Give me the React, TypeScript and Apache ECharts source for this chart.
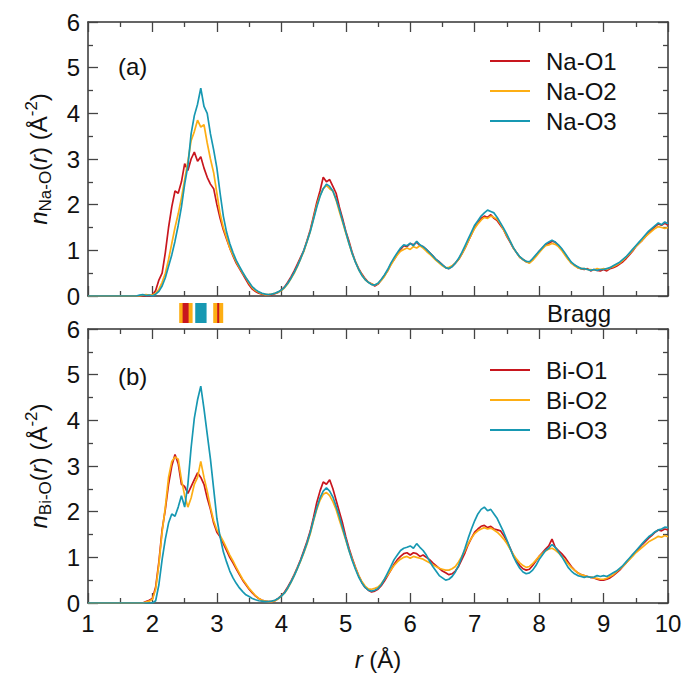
import React, { useEffect, useRef } from "react";
import * as echarts from "echarts";

// sampling grid: r from 1.00 Å in steps of 0.05 Å (181 samples up to 10.00 Å)
const R_START = 1.0;
const R_STEP = 0.05;

const X_TICKS = [1, 2, 3, 4, 5, 6, 7, 8, 9, 10];
const Y_TICKS = [0, 1, 2, 3, 4, 5, 6];

// (a) Na-O partial densities, rows of 10 samples (0.5 Å each)
const naO1 = [
  0, 0, 0, 0, 0, 0, 0, 0, 0, 0,
  0, 0, 0, 0, 0, 0, 0, 0, 0, 0,
  0.02, 0.12, 0.35, 0.5, 0.95, 1.5, 1.95, 2.3, 2.25, 2.5,
  2.9, 2.75, 3.0, 3.15, 2.95, 3.05, 2.8, 2.6, 2.45, 2.35,
  2.0, 1.7, 1.45, 1.25, 1.05, 0.88, 0.72, 0.6, 0.48, 0.36,
  0.24, 0.15, 0.1, 0.06, 0.04, 0.03, 0.02, 0.03, 0.05, 0.08,
  0.13, 0.2, 0.3, 0.42, 0.55, 0.7, 0.85, 1.0, 1.22, 1.45,
  1.75, 2.05, 2.3, 2.6, 2.5, 2.55, 2.4, 2.25, 1.95, 1.7,
  1.42, 1.2, 0.95, 0.75, 0.6, 0.48, 0.38, 0.3, 0.27, 0.22,
  0.26, 0.35, 0.45, 0.55, 0.7, 0.8, 0.92, 1.02, 1.1, 1.08,
  1.15, 1.12, 1.18, 1.1, 1.08, 1.02, 0.95, 0.88, 0.8, 0.75,
  0.68, 0.62, 0.6, 0.65, 0.72, 0.8, 0.92, 1.05, 1.2, 1.35,
  1.5, 1.6, 1.7, 1.75, 1.72, 1.78, 1.7, 1.65, 1.55, 1.45,
  1.3, 1.18, 1.05, 0.95, 0.85, 0.8, 0.75, 0.73, 0.8, 0.88,
  0.98, 1.05, 1.12, 1.15, 1.2, 1.18, 1.1, 1.02, 0.92, 0.82,
  0.72, 0.68, 0.62, 0.6, 0.58, 0.6, 0.55, 0.58, 0.56, 0.55,
  0.58, 0.55, 0.6, 0.62, 0.65, 0.7, 0.75, 0.82, 0.9, 0.98,
  1.08, 1.15, 1.22, 1.3, 1.38, 1.45, 1.52, 1.58, 1.55, 1.6,
  1.55,
];
const naO2 = [
  0, 0, 0, 0, 0, 0, 0, 0, 0, 0,
  0, 0, 0, 0, 0, 0, 0, 0.02, 0.03, 0.02,
  0.02, 0.06, 0.15, 0.3, 0.5, 0.8, 1.15, 1.5, 1.8, 2.15,
  2.55, 2.95, 3.4, 3.6, 3.85, 3.7, 3.75, 3.35, 3.0, 2.7,
  2.25, 1.8, 1.5, 1.28, 1.05, 0.9, 0.75, 0.62, 0.5, 0.4,
  0.28, 0.18, 0.12, 0.08, 0.05, 0.03, 0.03, 0.04, 0.06, 0.08,
  0.12, 0.18, 0.27, 0.38, 0.5, 0.65, 0.82, 0.98, 1.2, 1.42,
  1.7, 1.98, 2.2, 2.35, 2.42, 2.35, 2.3, 2.1, 1.85, 1.62,
  1.38, 1.15, 0.92, 0.75, 0.58, 0.46, 0.36, 0.3, 0.26, 0.24,
  0.27, 0.34, 0.43, 0.55, 0.68, 0.8, 0.9, 0.98, 1.02, 1.05,
  1.02, 1.08, 1.05, 1.1, 1.05, 0.98, 0.92, 0.85, 0.78, 0.72,
  0.66, 0.62, 0.63, 0.66, 0.72, 0.8, 0.92, 1.05, 1.2, 1.35,
  1.48, 1.58, 1.66, 1.72, 1.7, 1.75, 1.72, 1.68, 1.58, 1.45,
  1.32, 1.2, 1.05, 0.95, 0.85, 0.8, 0.75, 0.72, 0.78, 0.86,
  0.95, 1.03, 1.1, 1.12, 1.15, 1.13, 1.08, 1.0, 0.9, 0.8,
  0.72, 0.66, 0.62, 0.6, 0.6, 0.58, 0.58, 0.57, 0.6, 0.58,
  0.6, 0.58, 0.62, 0.64, 0.68, 0.72, 0.78, 0.85, 0.92, 1.0,
  1.08, 1.15, 1.22, 1.3, 1.36, 1.42, 1.48, 1.52, 1.5, 1.48,
  1.5,
];
const naO3 = [
  0, 0, 0, 0, 0, 0, 0, 0, 0, 0,
  0, 0, 0, 0, 0, 0, 0.02, 0.03, 0.01, 0.02,
  0.0, 0.04, 0.1, 0.22, 0.4, 0.65, 0.9, 1.2, 1.55, 1.95,
  2.45, 2.85, 3.55, 3.95, 4.2, 4.55, 4.15, 4.0, 3.55, 3.2,
  2.8, 2.25, 1.75, 1.4, 1.15, 0.95, 0.78, 0.65, 0.52, 0.4,
  0.3, 0.2, 0.14, 0.09, 0.06, 0.04, 0.03, 0.04, 0.06, 0.09,
  0.13, 0.19, 0.28, 0.39, 0.52, 0.66, 0.82, 1.0, 1.2, 1.42,
  1.68, 1.95, 2.18, 2.35, 2.45, 2.4, 2.3, 2.12, 1.9, 1.65,
  1.4, 1.15, 0.93, 0.74, 0.58, 0.45, 0.36, 0.3, 0.25, 0.24,
  0.28, 0.36, 0.46, 0.58, 0.72, 0.84, 0.95, 1.05, 1.12, 1.1,
  1.16, 1.1, 1.2, 1.12, 1.08, 1.02, 0.95, 0.88, 0.8, 0.74,
  0.68, 0.62, 0.6, 0.64, 0.72, 0.82, 0.95, 1.1, 1.25, 1.4,
  1.55, 1.65, 1.75, 1.82, 1.88, 1.85, 1.82, 1.72, 1.6, 1.48,
  1.35, 1.2, 1.06, 0.95, 0.86, 0.8, 0.76, 0.75, 0.82, 0.9,
  0.98, 1.06, 1.14, 1.18, 1.22, 1.18, 1.12, 1.04, 0.94, 0.84,
  0.74, 0.68, 0.64, 0.6, 0.6, 0.58, 0.56, 0.58, 0.56, 0.58,
  0.58, 0.6, 0.62, 0.66, 0.7, 0.74, 0.8, 0.86, 0.94, 1.02,
  1.1, 1.18, 1.26, 1.34, 1.42, 1.48, 1.54, 1.6, 1.56, 1.62,
  1.58,
];

// (b) Bi-O partial densities
const biO1 = [
  0, 0, 0, 0, 0, 0, 0, 0, 0, 0,
  0, 0, 0, 0, 0, 0, 0, 0, 0.03, 0.06,
  0.1, 0.35, 0.9, 1.6, 2.05, 2.6, 3.0, 3.25, 3.05, 2.6,
  2.55, 2.4, 2.55, 2.7, 2.85, 2.75, 2.6, 2.3, 2.05, 1.75,
  1.55, 1.45, 1.3, 1.15, 1.0, 0.88, 0.75, 0.62, 0.5, 0.4,
  0.3, 0.22, 0.15, 0.1, 0.06, 0.04, 0.03, 0.03, 0.05, 0.1,
  0.16, 0.24, 0.35, 0.48, 0.62, 0.78, 0.95, 1.15, 1.35, 1.58,
  1.88, 2.2, 2.45, 2.65, 2.6, 2.7, 2.5, 2.25, 2.0, 1.75,
  1.45, 1.2, 0.98, 0.78, 0.6, 0.45, 0.34, 0.28, 0.24, 0.26,
  0.3, 0.38, 0.48, 0.6, 0.72, 0.85, 0.95, 1.02, 1.08, 1.1,
  1.05, 1.1, 1.08, 1.02, 1.05, 1.0, 0.95, 0.88, 0.82, 0.76,
  0.7, 0.66, 0.62, 0.64, 0.7, 0.8, 0.95, 1.1, 1.28, 1.42,
  1.55, 1.62, 1.68, 1.7, 1.65, 1.68, 1.62, 1.6, 1.58, 1.48,
  1.35, 1.2, 1.05, 0.92, 0.82, 0.75, 0.72, 0.74, 0.82, 0.92,
  1.02, 1.1, 1.18, 1.25, 1.4, 1.22, 1.15, 1.08, 1.0, 0.9,
  0.8, 0.72, 0.66, 0.62, 0.6, 0.58, 0.56, 0.55, 0.52, 0.5,
  0.5, 0.52, 0.55, 0.6, 0.66, 0.72, 0.8, 0.88, 0.96, 1.05,
  1.12, 1.2, 1.28, 1.35, 1.42, 1.48, 1.55, 1.6, 1.58, 1.62,
  1.6,
];
const biO2 = [
  0, 0, 0, 0, 0, 0, 0, 0, 0, 0,
  0, 0, 0, 0, 0, 0, 0, 0, 0.02, 0.04,
  0.08, 0.3, 0.85, 1.55, 2.1, 2.75, 3.1, 3.2, 3.15, 2.7,
  2.35, 2.1, 2.3, 2.6, 2.75, 3.1, 2.75, 2.45, 2.1, 1.8,
  1.6, 1.48, 1.35, 1.2, 1.05, 0.92, 0.78, 0.65, 0.52, 0.42,
  0.32, 0.24, 0.16, 0.1, 0.06, 0.04, 0.03, 0.03, 0.05, 0.09,
  0.15, 0.22, 0.32, 0.45, 0.6, 0.76, 0.92, 1.1, 1.3, 1.52,
  1.8, 2.05, 2.25, 2.38, 2.42, 2.35, 2.22, 2.05, 1.82, 1.6,
  1.38, 1.15, 0.95, 0.77, 0.6, 0.47, 0.37, 0.31, 0.3, 0.32,
  0.35, 0.42, 0.52, 0.62, 0.72, 0.82, 0.9, 0.96, 1.0, 1.02,
  0.98, 1.02, 1.0, 0.98, 0.96, 0.92, 0.88, 0.84, 0.8, 0.76,
  0.74, 0.72, 0.72, 0.75, 0.8, 0.9, 1.02, 1.15, 1.3, 1.42,
  1.52, 1.58, 1.62, 1.65, 1.62, 1.64, 1.6, 1.55, 1.48, 1.4,
  1.3, 1.18, 1.06, 0.96, 0.88, 0.82, 0.78, 0.8, 0.86, 0.94,
  1.02, 1.08, 1.14, 1.18, 1.2, 1.16, 1.1, 1.02, 0.94, 0.86,
  0.78, 0.72, 0.66, 0.62, 0.6, 0.58, 0.57, 0.55, 0.54, 0.52,
  0.52, 0.54, 0.58, 0.62, 0.68, 0.74, 0.8, 0.88, 0.95, 1.02,
  1.1, 1.16, 1.22, 1.28, 1.34, 1.38, 1.42, 1.46, 1.44, 1.48,
  1.45,
];
const biO3 = [
  0, 0, 0, 0, 0, 0, 0, 0, 0, 0,
  0, 0, 0, 0, 0, 0, 0, 0, 0, 0,
  0.0, 0.05, 0.4, 0.95, 1.4, 1.75, 1.95, 1.9, 2.1, 2.35,
  2.1, 2.6, 3.4, 4.05, 4.45, 4.75, 4.25, 3.7, 3.15, 2.5,
  1.85, 1.45, 1.12, 0.9, 0.7, 0.55, 0.43, 0.33, 0.25, 0.18,
  0.14, 0.1, 0.07, 0.05, 0.04, 0.03, 0.03, 0.04, 0.06, 0.1,
  0.15, 0.22, 0.33, 0.46, 0.6, 0.76, 0.93, 1.12, 1.32, 1.55,
  1.82, 2.08, 2.3, 2.45, 2.52, 2.45, 2.32, 2.12, 1.9, 1.65,
  1.4, 1.15, 0.93, 0.74, 0.57, 0.44, 0.34, 0.28, 0.26, 0.28,
  0.32, 0.4, 0.52, 0.66, 0.8, 0.95, 1.05, 1.15, 1.2, 1.22,
  1.25, 1.2, 1.3, 1.22, 1.15, 1.05, 0.92, 0.8, 0.7, 0.6,
  0.55, 0.5, 0.52, 0.58, 0.68, 0.82, 1.0, 1.2, 1.42, 1.62,
  1.8, 1.95, 2.05, 2.1, 2.02, 2.05, 1.95, 1.85, 1.7, 1.55,
  1.38, 1.2, 1.02, 0.88, 0.76, 0.68, 0.64, 0.66, 0.72, 0.82,
  0.95, 1.05, 1.15, 1.2, 1.28, 1.22, 1.12, 1.02, 0.9, 0.78,
  0.7, 0.64, 0.6, 0.58, 0.56, 0.58, 0.56, 0.57, 0.6, 0.58,
  0.6, 0.58, 0.62, 0.66, 0.7, 0.76, 0.82, 0.9, 0.98, 1.06,
  1.14, 1.22, 1.3, 1.38, 1.45, 1.5, 1.56, 1.6, 1.62, 1.66,
  1.65,
];

// Bragg reflection bands [rStart, rEnd] (Å)
const braggO2 = [[2.415, 2.623], [2.943, 3.098]];
const braggO1 = [[2.468, 2.561], [3.005, 3.036]];
const braggO3 = [[2.664, 2.84]];

const NAMES_A = ["Na-O1", "Na-O2", "Na-O3"];
const NAMES_B = ["Bi-O1", "Bi-O2", "Bi-O3"];

const RED = "#c8161e";
const ORANGE = "#fdae14";
const TEAL = "#1798b2";
const FONT = "'Liberation Sans', Arial, Helvetica, sans-serif";

const toPairs = (vals: number[]) =>
  vals.map((v, i) => [Number((R_START + i * R_STEP).toFixed(2)), v]);

export default function App() {
  const ref = useRef<HTMLDivElement>(null);
  useEffect(() => {
    if (!ref.current) return;
    const chart = echarts.init(ref.current, undefined, { renderer: "svg" });

    const axisLine = { show: true, onZero: false, lineStyle: { color: "#333", width: 1.5 } };
    const axisTick = { show: true, inside: true, length: 10, lineStyle: { color: "#444", width: 1.3 } };
    const minorTick = { show: true, splitNumber: 2, length: 5, lineStyle: { color: "#444", width: 1.3 } };

    const xBase = (gridIndex: number, position: string, showLabel: boolean) => ({
      type: "value",
      gridIndex,
      position,
      min: X_TICKS[0],
      max: X_TICKS[X_TICKS.length - 1],
      interval: 1,
      axisLine,
      axisTick,
      minorTick,
      splitLine: { show: false },
      axisLabel: {
        show: showLabel,
        fontSize: 24,
        fontFamily: FONT,
        color: "#111",
        margin: 8,
      },
    });
    const yBase = (gridIndex: number, position: string, showLabel: boolean) => ({
      type: "value",
      gridIndex,
      position,
      min: Y_TICKS[0],
      max: Y_TICKS[Y_TICKS.length - 1],
      interval: 1,
      axisLine,
      axisTick,
      minorTick,
      splitLine: { show: false },
      axisLabel: {
        show: showLabel,
        fontSize: 24,
        fontFamily: FONT,
        color: "#111",
        margin: 8,
      },
    });

    const richY = {
      i: { fontStyle: "italic", fontSize: 24, fontFamily: FONT, color: "#111" },
      n: { fontSize: 24, fontFamily: FONT, color: "#111" },
      sub: { fontSize: 17, fontFamily: FONT, color: "#111", padding: [14, 0, 0, 0] },
      sup: { fontSize: 17, fontFamily: FONT, color: "#111", padding: [0, 0, 14, 0] },
    };

    const yName = (label: string) => ({
      name: `{i|n}{sub|${label}}{n|(}{i|r}{n|) (Å}{sup|-2}{n|)}`,
      nameLocation: "middle",
      nameRotate: 90,
      nameGap: 34,
      nameTextStyle: { fontSize: 24, fontFamily: FONT, color: "#111", rich: richY },
    });

    const lineSeries = (name: string, vals: number[], color: string, idx: number) => ({
      type: "line",
      name,
      xAxisIndex: idx,
      yAxisIndex: idx,
      data: toPairs(vals),
      showSymbol: false,
      symbol: "none",
      lineStyle: { color, width: 1.7 },
      itemStyle: { color },
      z: 3,
    });

    const braggSeries = (bands: number[][], color: string, z: number) => ({
      type: "custom",
      xAxisIndex: 4,
      yAxisIndex: 4,
      data: bands,
      z,
      renderItem: (params: any, api: any) => {
        const p0 = api.coord([api.value(0), 1]);
        const p1 = api.coord([api.value(1), 0]);
        return {
          type: "rect",
          shape: { x: p0[0], y: p0[1], width: p1[0] - p0[0], height: p1[1] - p0[1] },
          style: { fill: color },
        };
      },
    });

    const legendBase = (data: string[], top: number) => ({
      data,
      orient: "vertical",
      left: 485,
      top,
      icon: "rect",
      itemWidth: 40,
      itemHeight: 2,
      itemGap: 6,
      selectedMode: false,
      textStyle: {
        fontSize: 24,
        lineHeight: 24,
        fontFamily: FONT,
        color: "#111",
        padding: [0, 0, 0, 11],
      },
    });

    chart.setOption({
      animation: false,
      backgroundColor: "#fff",
      grid: [
        { left: 88, top: 22, width: 580, height: 274 },
        { left: 88, top: 329, width: 580, height: 274 },
        { left: 88, top: 303, width: 580, height: 20 },
      ],
      legend: [legendBase(NAMES_A, 44), legendBase(NAMES_B, 353)],
      xAxis: [
        xBase(0, "bottom", false),
        xBase(0, "top", false),
        {
          ...xBase(1, "bottom", true),
          name: "{i|r} (Å)",
          nameLocation: "middle",
          nameGap: 44,
          nameTextStyle: { fontSize: 24, fontFamily: FONT, color: "#111", rich: richY },
        },
        xBase(1, "top", false),
        {
          type: "value",
          gridIndex: 2,
          min: X_TICKS[0],
          max: X_TICKS[X_TICKS.length - 1],
          show: false,
        },
      ],
      yAxis: [
        { ...yBase(0, "left", true), ...yName("Na-O") },
        yBase(0, "right", false),
        { ...yBase(1, "left", true), ...yName("Bi-O") },
        yBase(1, "right", false),
        { type: "value", gridIndex: 2, min: 0, max: 1, show: false },
      ],
      graphic: [
        {
          type: "text",
          x: 118,
          y: 66,
          style: { text: "(a)", fontSize: 24, fontFamily: FONT, fill: "#111", verticalAlign: "middle", textVerticalAlign: "middle" },
        },
        {
          type: "text",
          x: 118,
          y: 376,
          style: { text: "(b)", fontSize: 24, fontFamily: FONT, fill: "#111", verticalAlign: "middle", textVerticalAlign: "middle" },
        },
        {
          type: "text",
          x: 547,
          y: 313,
          style: { text: "Bragg", fontSize: 24, fontFamily: FONT, fill: "#111", verticalAlign: "middle", textVerticalAlign: "middle" },
        },
      ],
      series: [
        lineSeries(NAMES_A[0], naO1, RED, 0),
        lineSeries(NAMES_A[1], naO2, ORANGE, 0),
        lineSeries(NAMES_A[2], naO3, TEAL, 0),
        lineSeries(NAMES_B[0], biO1, RED, 2),
        lineSeries(NAMES_B[1], biO2, ORANGE, 2),
        lineSeries(NAMES_B[2], biO3, TEAL, 2),
        braggSeries(braggO2, ORANGE, 2),
        braggSeries(braggO1, RED, 3),
        braggSeries(braggO3, TEAL, 3),
      ],
    } as any);
    return () => chart.dispose();
  }, []);
  return (
    <div
      ref={ref}
      style={{ position: "fixed", left: 0, top: 0, width: 688, height: 680, background: "#fff" }}
    />
  );
}
